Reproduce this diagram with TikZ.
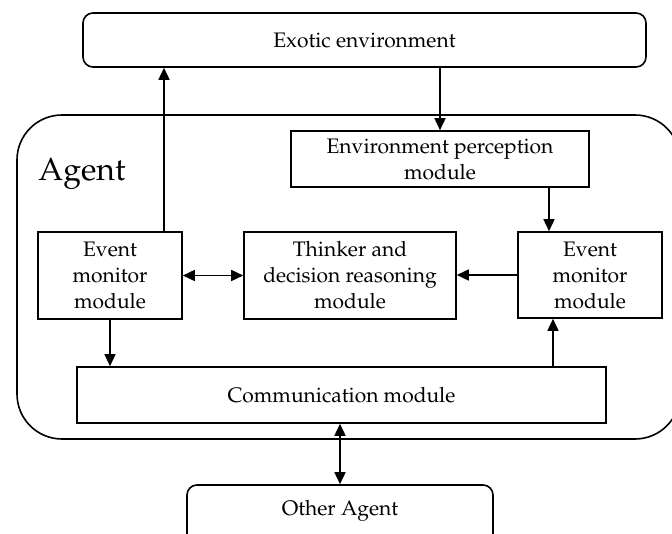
\documentclass[tikz,border=0pt]{standalone}
\usepackage[T1]{fontenc}
\usepackage{mathpazo}
\usetikzlibrary{arrows.meta}
\begin{document}
\begin{tikzpicture}[x=1pt,y=-1pt,line width=1.6pt,
  box/.style={draw,rectangle,inner sep=0pt,align=center,font=\fontsize{21}{26}\selectfont},
  rbox/.style={box,rounded corners=10pt},
  tipe/.style={-{Triangle[length=12pt,width=11pt]}},
  tipb/.style={{Triangle[length=12pt,width=11pt]}-{Triangle[length=12pt,width=11pt]}},
  lbl/.style={inner sep=0pt,font=\fontsize{21}{26}\selectfont}]
\useasboundingbox (0,0) rectangle (672,534);
\clip (0,0) rectangle (672,534);
% outer boxes
\node[rbox,minimum width=563pt,minimum height=54pt] (exo) at (364.5,40) {Exotic environment};
\node[draw,rectangle,rounded corners=45pt,minimum width=663pt,minimum height=324pt] (agent) at (348.5,277) {};
\node[inner sep=0pt,font=\fontsize{32}{36}\selectfont] (agentlbl) at (82,174) {Agent};
% modules
\node[box,minimum width=298pt,minimum height=56pt] (env) at (440,159) {Environment perception\\module};
\node[box,minimum width=144pt,minimum height=87pt] (lem) at (110,275.5) {Event\\monitor\\module};
\node[box,minimum width=212pt,minimum height=87pt] (think) at (350,275.5) {Thinker and\\decision reasoning\\module};
\node[box,minimum width=144pt,minimum height=86pt] (rem) at (590,275) {Event\\monitor\\module};
\node[box,minimum width=529pt,minimum height=56pt] (comm) at (341.5,395) {Communication module};
\node[rbox,minimum width=306pt,minimum height=80pt] (other) at (340,525) {};
\node[lbl] (otherlbl) at (340,511) {Other Agent};
% connectors
\draw[tipe] ([xshift=54pt]lem.north) -- ([xshift=54pt]lem.north |- exo.south);
\draw[tipe] (env.north |- exo.south) -- (env.north);
\draw[tipe] ([xshift=-41pt]rem.north |- env.south) -- ([xshift=-41pt]rem.north);
\draw[tipe] (rem.west) -- (think.east |- rem.west);
\draw[tipb] (lem.east) -- (think.west);
\draw[tipe] (lem.south) -- (lem.south |- comm.north);
\draw[tipe] ([xshift=-37pt]rem.south |- comm.north) -- ([xshift=-37pt]rem.south);
\draw[tipb] (other.north |- comm.south) -- (other.north);
\end{tikzpicture}
\end{document}
